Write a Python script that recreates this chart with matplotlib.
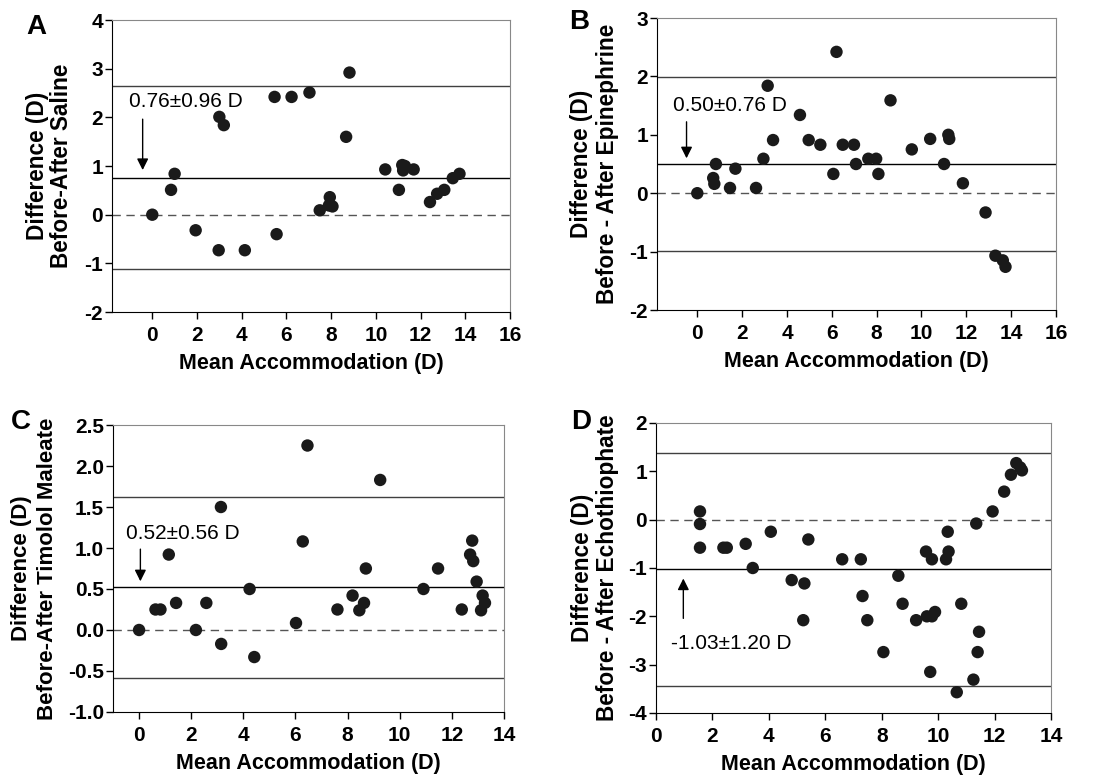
import matplotlib.pyplot as plt
import numpy as np

plt.rcParams.update({'font.family': 'Liberation Sans', 'font.size': 13})

# panel A: saline
a_x = [0, 0.84, 1.0, 1.94, 2.97, 3.0, 3.2, 4.14, 5.47, 5.56, 6.23, 7.03, 7.49, 7.94, 7.9, 8.06,
       8.67, 8.82, 10.42, 11.03, 11.18, 11.3, 11.22, 11.69, 12.42, 12.74, 13.06, 13.44, 13.74]
a_y = [0, 0.51, 0.84, -0.32, -0.73, 2.01, 1.84, -0.73, 2.42, -0.40, 2.42, 2.51, 0.09, 0.36, 0.19, 0.17,
       1.60, 2.92, 0.93, 0.51, 1.02, 1.0, 0.91, 0.93, 0.26, 0.43, 0.51, 0.75, 0.84]
# panel B: epinephrine
b_x = [0, 0.71, 0.76, 0.83, 1.46, 1.70, 2.62, 2.95, 3.14, 3.38, 4.58, 4.97, 5.49, 6.07, 6.21, 6.49,
       6.99, 7.08, 7.63, 7.98, 8.08, 8.62, 9.57, 10.39, 11.01, 11.2, 11.24, 11.85, 12.86, 13.30, 13.63, 13.75]
b_y = [0, 0.26, 0.16, 0.50, 0.09, 0.42, 0.09, 0.59, 1.84, 0.91, 1.34, 0.91, 0.83, 0.33, 2.42, 0.83,
       0.83, 0.50, 0.59, 0.59, 0.33, 1.59, 0.75, 0.93, 0.50, 1.0, 0.93, 0.17, -0.33, -1.07, -1.15, -1.26]
# panel C: timolol maleate
c_x = [0, 0.63, 0.82, 1.14, 1.42, 2.18, 2.58, 3.14, 3.15, 4.24, 4.42, 6.02, 6.28, 6.46, 7.61, 8.19,
       8.45, 8.63, 8.70, 9.25, 10.91, 11.47, 12.38, 12.7, 12.78, 12.82, 12.95, 13.18, 13.27, 13.12]
c_y = [0, 0.25, 0.25, 0.92, 0.33, 0, 0.33, 1.50, -0.17, 0.50, -0.33, 0.085, 1.08, 2.25, 0.25, 0.42,
       0.24, 0.33, 0.75, 1.83, 0.50, 0.75, 0.25, 0.92, 1.09, 0.84, 0.59, 0.42, 0.33, 0.24]
# panel D: echothiophate
d_x = [1.56, 1.56, 1.56, 2.39, 2.51, 3.18, 3.43, 4.07, 4.81, 5.22, 5.26, 5.40, 6.60, 7.26, 7.32, 7.49,
       8.06, 8.59, 8.74, 9.22, 9.57, 9.60, 9.72, 9.78, 9.78, 9.89, 10.28, 10.34, 10.37, 10.66, 10.82,
       11.25, 11.35, 11.40, 11.45, 11.93, 12.34, 12.58, 12.77, 12.91, 12.97]
d_y = [0.17, -0.09, -0.58, -0.58, -0.58, -0.50, -1.0, -0.25, -1.25, -2.08, -1.32, -0.41, -0.82, -0.82,
       -1.58, -2.08, -2.74, -1.16, -1.74, -2.08, -0.66, -2.0, -3.15, -0.82, -2.0, -1.91, -0.82, -0.25,
       -0.66, -3.57, -1.74, -3.31, -0.08, -2.74, -2.32, 0.17, 0.58, 0.93, 1.17, 1.08, 1.02]

panels = [
    dict(letter='A', x=a_x, y=a_y, mean=0.76, lo=-1.12, hi=2.64, text='0.76\u00b10.96 D',
         ylab2='Before-After Saline', ylab_x=(-0.188, -0.126), ylab_fs=16.3,
         xlim=(-1.8, 16), xticks=np.arange(0, 17, 2), ylim=(-2, 4), yticks=np.arange(-2, 5, 1), yfmt='%d',
         rect=[0.1024, 0.5979, 0.3638, 0.3763], letter_xy=(-0.19, 0.976),
         txt_xy=(-1.06, 2.32), arr_from=(-0.43, 2.02), arr_to=(-0.43, 0.86)),
    dict(letter='B', x=b_x, y=b_y, mean=0.50, lo=-0.99, hi=1.99, text='0.50\u00b10.76 D',
         ylab2='Before - After Epinephrine', ylab_x=(-0.19, -0.125), ylab_fs=16.3,
         xlim=(-1.8, 16), xticks=np.arange(0, 17, 2), ylim=(-2, 3), yticks=np.arange(-2, 4, 1), yfmt='%d',
         rect=[0.6005, 0.6005, 0.3647, 0.3763], letter_xy=(-0.195, 0.985),
         txt_xy=(-1.07, 1.51), arr_from=(-0.48, 1.27), arr_to=(-0.48, 0.55)),
    dict(letter='C', x=c_x, y=c_y, mean=0.52, lo=-0.58, hi=1.62, text='0.52\u00b10.56 D',
         ylab2='Before-After Timolol Maleate', ylab_x=(-0.233, -0.168), ylab_fs=16.0,
         xlim=(-1, 14), xticks=np.arange(0, 15, 2), ylim=(-1, 2.5), yticks=np.arange(-1, 2.6, 0.5), yfmt='%.1f',
         rect=[0.1033, 0.0825, 0.3574, 0.3698], letter_xy=(-0.235, 1.01),
         txt_xy=(-0.49, 1.18), arr_from=(0.05, 1.02), arr_to=(0.05, 0.56)),
    dict(letter='D', x=d_x, y=d_y, mean=-1.03, lo=-3.44, hi=1.38, text='-1.03\u00b11.20 D',
         ylab2='Before - After Echothiophate', ylab_x=(-0.185, -0.122), ylab_fs=16.3,
         xlim=(0, 14), xticks=np.arange(0, 15, 2), ylim=(-4, 2), yticks=np.arange(-4, 3, 1), yfmt='%d',
         rect=[0.5996, 0.0812, 0.3611, 0.3737], letter_xy=(-0.19, 1.005),
         txt_xy=(0.52, -2.56), arr_from=(0.97, -2.1), arr_to=(0.97, -1.16)),
]

fig = plt.figure(figsize=(10.94, 7.76), dpi=100)

for p in panels:
    ax = fig.add_axes(p['rect'])
    ax.set_xlim(*p['xlim'])
    ax.set_ylim(*p['ylim'])
    ax.axhline(p['hi'], color='#404040', lw=1.0, zorder=1)
    ax.axhline(p['lo'], color='#404040', lw=1.0, zorder=1)
    ax.axhline(p['mean'], color='black', lw=1.0, zorder=1)
    ax.axhline(0, color='#555555', lw=1.0, ls=(0, (6, 4)), zorder=1)
    ax.scatter(p['x'], p['y'], s=80, color='#1a1a1a', edgecolors='none', zorder=3)

    ax.set_xticks(p['xticks'])
    ax.set_yticks(p['yticks'])
    ax.set_yticklabels([p['yfmt'] % v for v in p['yticks']])
    ax.tick_params(direction='out', length=5, width=1, labelsize=15)
    ax.tick_params(axis='y', pad=1.5)
    ax.tick_params(axis='x', pad=5)
    for lab in ax.get_xticklabels() + ax.get_yticklabels():
        lab.set_fontweight('bold')
    ax.spines['left'].set_color('black')
    ax.spines['bottom'].set_color('black')
    ax.spines['top'].set_color('#888888')
    ax.spines['right'].set_color('#888888')

    ax.set_xlabel('Mean Accommodation (D)', fontsize=15.5, fontweight='bold', labelpad=6)
    # two-line y label, one text per line
    ax.text(p['ylab_x'][0], 0.5, 'Difference (D)', transform=ax.transAxes, rotation=90,
            fontsize=p['ylab_fs'], fontweight='bold', ha='center', va='center')
    ax.text(p['ylab_x'][1], 0.5, p['ylab2'], transform=ax.transAxes, rotation=90,
            fontsize=p['ylab_fs'], fontweight='bold', ha='center', va='center')

    ax.text(p['txt_xy'][0], p['txt_xy'][1], p['text'], fontsize=15, ha='left', va='center')
    ax.annotate('', xy=p['arr_to'], xytext=p['arr_from'],
                arrowprops=dict(arrowstyle='-|>', color='black', lw=1, mutation_scale=17))

    ax.text(p['letter_xy'][0], p['letter_xy'][1], p['letter'], transform=ax.transAxes,
            fontsize=20, fontweight='bold', ha='center', va='center')

fig.savefig('out.png', dpi=100)
